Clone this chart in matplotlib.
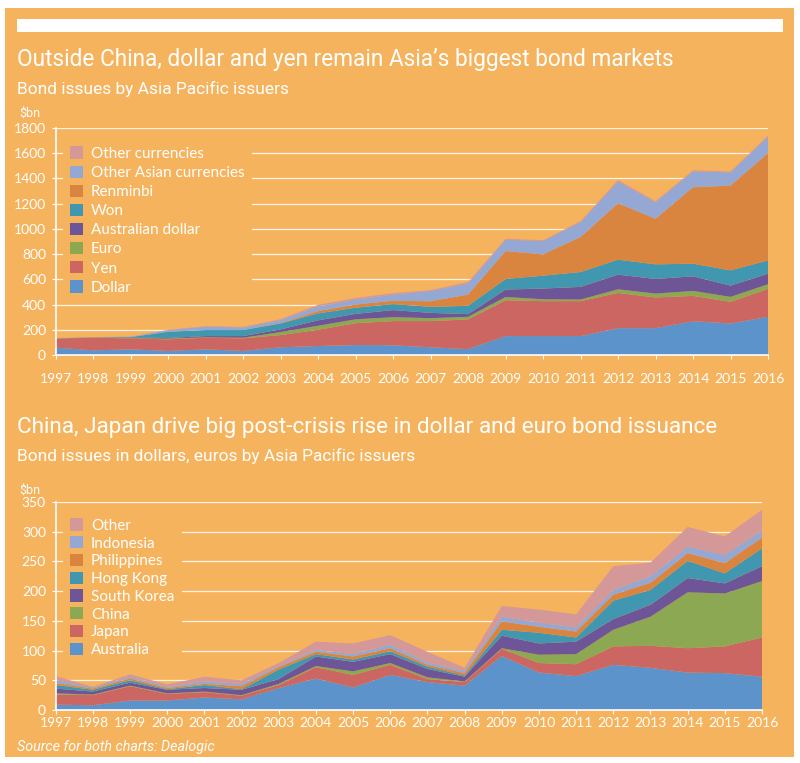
import matplotlib
matplotlib.use("Agg")
import matplotlib.pyplot as plt
from matplotlib.patches import Rectangle, Patch

# ---------------- data ----------------
years = list(range(1997, 2017))

# Chart 1: bond issues by Asia Pacific issuers, by currency ($bn)
currency_labels = ["Dollar", "Yen", "Euro", "Australian dollar", "Won",
                   "Renminbi", "Other Asian currencies", "Other currencies"]
dollar = [58, 37, 45, 32, 45, 32, 61, 71, 79, 77, 61, 47, 150, 150, 150, 213, 213, 268, 250, 303]
yen = [71, 100, 87, 92, 92, 100, 97, 129, 173, 192, 208, 235, 284, 277, 277, 279, 243, 201, 171, 221]
euro = [1, 1, 2, 6, 3, 5, 24, 32, 31, 31, 23, 21, 26, 15, 13, 29, 31, 39, 40, 37]
aud = [1, 1, 2, 5, 10, 13, 21, 43, 43, 56, 42, 21, 59, 85, 100, 116, 116, 116, 89, 84]
won = [1, 1, 6, 49, 48, 48, 47, 55, 49, 48, 48, 66, 84, 102, 118, 119, 116, 100, 121, 105]
renminbi = [0, 0, 0, 0, 0, 0, 2, 18, 25, 26, 44, 89, 221, 169, 277, 447, 361, 606, 672, 851]
other_asian = [0, 0, 3, 14, 26, 21, 25, 37, 38, 49, 82, 87, 90, 105, 118, 172, 131, 126, 105, 129]
other_ccy = [3, 2, 2, 2, 4, 4, 8, 13, 14, 12, 7, 13, 8, 7, 9, 13, 9, 9, 7, 10]

# Chart 2: bond issues in dollars and euros, by issuer country ($bn)
country_labels = ["Australia", "Japan", "China", "South Korea", "Hong Kong",
                  "Philippines", "Indonesia", "Other"]
australia = [9, 8, 16, 16, 21, 18, 37, 53, 38, 59, 47, 41, 91, 63, 57, 76, 71, 63, 62, 56]
japan = [17, 17, 24, 11, 9, 6, 5, 19, 21, 17, 5, 6, 12, 16, 20, 31, 37, 41, 45, 66]
china = [2, 1, 1, 1, 1, 1, 2, 2, 6, 3, 3, 1, 1, 14, 17, 28, 49, 94, 89, 95]
south_korea = [8, 5, 5, 6, 6, 9, 8, 16, 16, 15, 14, 8, 21, 19, 21, 18, 20, 24, 17, 25]
hong_kong = [6, 3, 4, 1, 5, 1, 16, 4, 4, 5, 4, 2, 10, 18, 7, 31, 25, 29, 17, 30]
philippines = [3, 2, 3, 2, 2, 5, 4, 4, 5, 5, 3, 4, 14, 10, 10, 10, 12, 13, 17, 18]
indonesia = [5, 2, 3, 2, 4, 4, 2, 3, 4, 6, 4, 4, 8, 7, 7, 8, 11, 11, 14, 12]
other_country = [7, 1, 4, 4, 8, 6, 5, 14, 18, 16, 18, 5, 18, 22, 22, 40, 23, 33, 31, 35]

yticks_top = [0, 200, 400, 600, 800, 1000, 1200, 1400, 1600, 1800]
yticks_bottom = [0, 50, 100, 150, 200, 250, 300, 350]

# ---------------- style ----------------
ORANGE = "#F6B35E"
COLORS = ["#5B93CA", "#CC6662", "#8CA852", "#6E5597", "#4297B0",
          "#DA853F", "#94A8D3", "#D49899"]
WHITE = "white"
TITLE_FONT = ["Roboto", "DejaVu Sans"]
BODY_FONT = ["Lato", "DejaVu Sans"]

W, H = 800, 763
fig = plt.figure(figsize=(W / 100, H / 100), dpi=100)
fig.patch.set_facecolor("white")


def rect(x0, y0, x1, y1):
    return [x0 / W, 1 - y1 / H, (x1 - x0) / W, (y1 - y0) / H]


fig.add_artist(Rectangle((5 / W, 1 - 757 / H), (794 - 5) / W, (757 - 8) / H,
                         transform=fig.transFigure, facecolor=ORANGE,
                         edgecolor="none", zorder=0))
fig.add_artist(Rectangle((17 / W, 1 - 32 / H), (783 - 17) / W, (32 - 19) / H,
                         transform=fig.transFigure, facecolor=WHITE,
                         edgecolor="none", zorder=1))


def ftext(x, y, s, size, family, style="normal", weight="normal", va="baseline"):
    fig.text(x / W, 1 - y / H, s, color=WHITE, fontsize=size, family=family,
             style=style, weight=weight, va=va, ha="left")


ftext(17, 66, "Outside China, dollar and yen remain Asia\u2019s biggest bond markets",
      16.3, TITLE_FONT)
ftext(17, 94, "Bond issues by Asia Pacific issuers", 12.5, TITLE_FONT)
ftext(19, 117, "$bn", 9, TITLE_FONT)

ftext(17, 433, "China, Japan drive big post-crisis rise in dollar and euro bond issuance",
      16.2, TITLE_FONT)
ftext(17, 461, "Bond issues in dollars, euros by Asia Pacific issuers", 12.5,
      TITLE_FONT)
ftext(19, 494, "$bn", 9, TITLE_FONT)

ftext(17, 751, "Source for both charts: Dealogic", 10.3, TITLE_FONT, style="italic")


def style_axes(ax, yticks, ymax, xpad):
    ax.set_facecolor(ORANGE)
    ax.patch.set_alpha(0)
    ax.set_xlim(years[0], years[-1])
    ax.set_ylim(0, ymax)
    ax.set_xticks(years)
    ax.set_xticklabels([str(y) for y in years])
    ax.set_yticks(yticks)
    ax.set_yticklabels([str(v) for v in yticks])
    for s in ["top", "right"]:
        ax.spines[s].set_visible(False)
    for s in ["left", "bottom"]:
        ax.spines[s].set_color(WHITE)
        ax.spines[s].set_linewidth(1.2)
        ax.spines[s].set_zorder(5)
    ax.tick_params(axis="both", colors=WHITE, length=3, width=0.8,
                   labelsize=10, labelcolor=WHITE)
    ax.tick_params(axis="y", pad=4)
    ax.tick_params(axis="x", pad=xpad)
    for lab in ax.get_xticklabels() + ax.get_yticklabels():
        lab.set_family(BODY_FONT)
    ax.set_axisbelow(True)
    ax.yaxis.grid(True, color=WHITE, linewidth=0.9, alpha=0.85)
    ax.xaxis.grid(False)


def add_legend(ax, labels, spacing, xanchor, yanchor):
    handles = [Patch(facecolor=c, edgecolor="none") for c in COLORS]
    leg = ax.legend(handles[::-1], labels[::-1], loc="upper left",
                    bbox_to_anchor=(xanchor, yanchor), frameon=True, facecolor=ORANGE,
                    edgecolor="none", framealpha=1.0, fancybox=False,
                    handlelength=0.85, handleheight=0.85, handletextpad=0.5,
                    labelspacing=spacing, borderpad=0.5, borderaxespad=0.2,
                    prop={"family": BODY_FONT, "size": 11})
    for t in leg.get_texts():
        t.set_color(WHITE)
    leg.set_zorder(3)


ax1 = fig.add_axes(rect(55.7, 128, 768, 355))
ax1.stackplot(years, dollar, yen, euro, aud, won, renminbi, other_asian, other_ccy,
              colors=COLORS, linewidth=0, zorder=2)
style_axes(ax1, yticks_top, 1800, 10)
add_legend(ax1, currency_labels, 0.31, 3.8 / 712, 1 - 7.8 / 227)

ax2 = fig.add_axes(rect(55.7, 502, 762, 710))
ax2.stackplot(years, australia, japan, china, south_korea, hong_kong, philippines,
              indonesia, other_country, colors=COLORS, linewidth=0, zorder=2)
style_axes(ax2, yticks_bottom, 350, 2)
add_legend(ax2, country_labels, 0.22, 3.8 / 706, 1 - 5.8 / 208)

fig.savefig("out.png", dpi=100, facecolor=fig.get_facecolor())
